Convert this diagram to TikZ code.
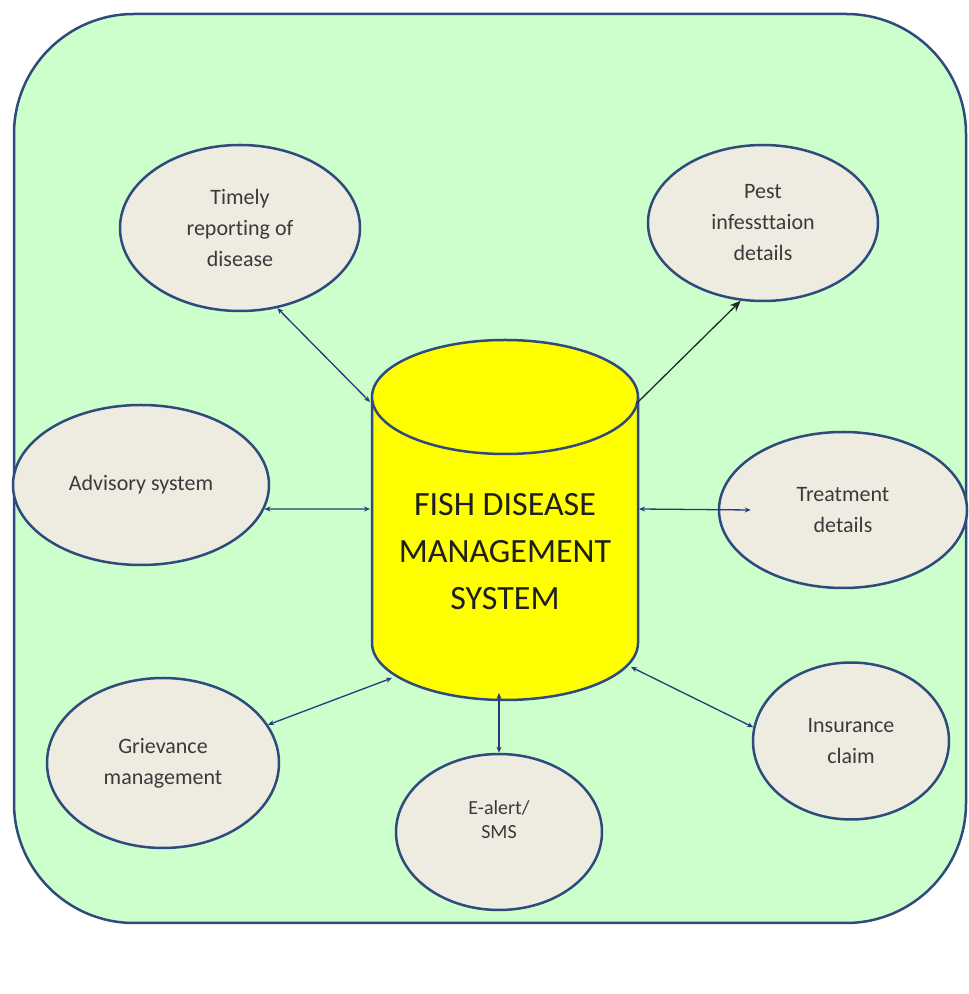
\documentclass[tikz,border=0pt]{standalone}
\usepackage{fontspec}
\setmainfont{Carlito}[Ligatures=NoCommon]
\usetikzlibrary{shapes.geometric,arrows.meta}
\definecolor{bggreen}{RGB}{204,255,204}
\definecolor{navy}{RGB}{47,75,124}
\definecolor{beige}{RGB}{238,236,225}
\definecolor{conn}{RGB}{40,58,120}
\definecolor{pestline}{RGB}{30,46,36}
\definecolor{txtgray}{RGB}{58,58,58}
\definecolor{cylyellow}{RGB}{255,255,0}
\begin{document}
\begin{tikzpicture}[x=1pt,y=1pt,
  bubble/.style={ellipse, draw=navy, line width=2.5pt, fill=beige, text=txtgray,
    align=center, inner sep=0pt, font=\fontsize{22}{31}\selectfont},
  lbl/.style={text=txtgray, align=center, inner sep=0pt},
  link/.style={draw=conn, line width=1.3pt,
    {Stealth[length=6pt,width=5pt]}-{Stealth[length=6pt,width=5pt]}},
  pestlink/.style={draw=pestline, line width=1.3pt, -{Stealth[length=11pt,width=9pt]}},
  rim/.style={draw=navy, line width=2.5pt}]
\useasboundingbox (0,0) rectangle (969,994);
\fill[white] (0,0) rectangle (969,994);
% background panel
\draw[rim, fill=bggreen, rounded corners=120pt] (14,71) rectangle (966,980);

% cylinder
\fill[cylyellow] (372,597) -- (372,351) arc[start angle=180,end angle=360,x radius=133pt,y radius=57pt] -- (638,597) -- cycle;
\draw[rim] (372,597) -- (372,351) arc[start angle=180,end angle=360,x radius=133pt,y radius=57pt] -- (638,597);
\draw[rim, fill=cylyellow] (505,597) ellipse[x radius=133pt, y radius=57pt];
\node[font=\fontsize{34}{47}\selectfont, text=black!88, align=center] (cyl) at (505,442) {FISH DISEASE\\MANAGEMENT\\SYSTEM};

% cylinder connection points
\coordinate (cA) at (370,592);
\coordinate (cB) at (370,485);
\coordinate (cC) at (636,590);
\coordinate (cD) at (639,485);
\coordinate (cE) at (392,316);
\coordinate (cF) at (499,301);
\coordinate (cG) at (631,327);

% satellite ellipses
\node[bubble, minimum width=240pt, minimum height=166pt] (tim) at (240,766) {Timely\\reporting of\\disease};
\node[bubble, minimum width=230pt, minimum height=156pt] (pest) at (763,771) {Pest\\infessttaion\\details};
\node[bubble, minimum width=248pt, minimum height=156pt] (treat) at (843,484) {Treatment\\details};
\node[bubble, minimum width=256pt, minimum height=160pt] (adv) at (141,509) {Advisory system};
\node[bubble, minimum width=232pt, minimum height=170pt] (griev) at (163,231) {Grievance\\management};
\node[bubble, minimum width=206pt, minimum height=156pt,
  label={[lbl, font=\fontsize{20}{24}\selectfont, yshift=12pt]center:E-alert/\\SMS}] (ealert) at (499,162) {};
\node[bubble, minimum width=196pt, minimum height=157pt] (ins) at (851,253) {Insurance\\claim};

% connectors
\draw[link] (tim.-65) -- (cA);
\draw[link] (adv.-11) -- (cB);
\draw[pestlink] (cC) -- (pest.-106);
\draw[link] (cD) -- ([xshift=33pt]treat.west);
\draw[link] (griev.20) -- (cE);
\draw[link] (cF) -- (ealert.north);
\draw[link] (ins.172) -- (cG);
\end{tikzpicture}
\end{document}
